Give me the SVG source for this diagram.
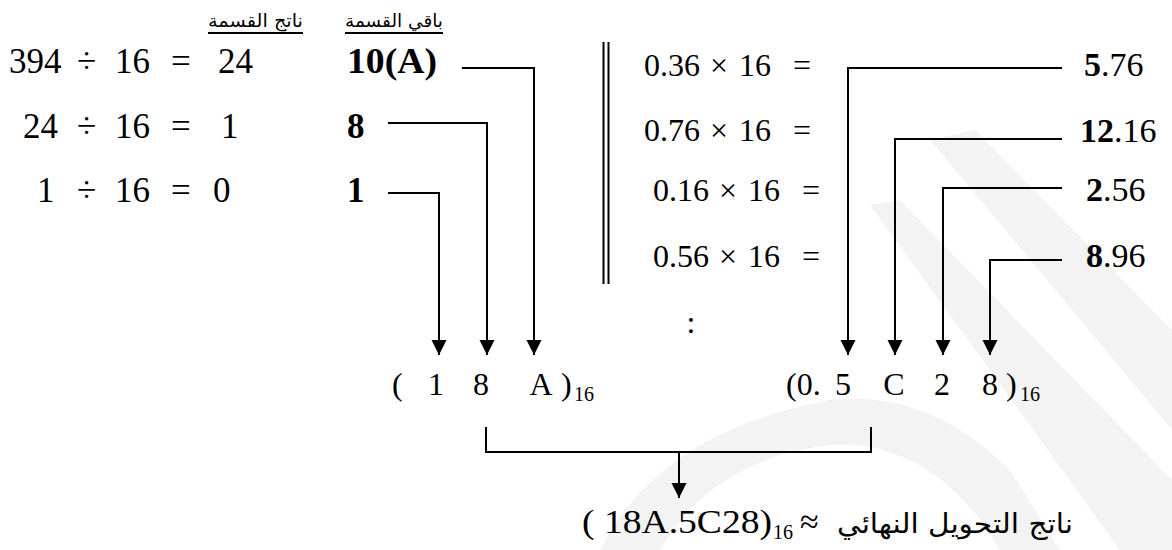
<svg xmlns="http://www.w3.org/2000/svg" width="1172" height="550" viewBox="0 0 1172 550">
<style>
.m{font-family:'Liberation Serif',serif;font-size:35px;fill:#000}
.r{font-family:'Liberation Serif',serif;font-size:32px;fill:#000}
.v{font-family:'Liberation Serif',serif;font-size:34px;fill:#000}
.b{font-weight:bold}
.sub{font-family:'Liberation Serif',serif;font-size:20px;fill:#000}
.ar{font-family:'DejaVu Sans',sans-serif;fill:#000}
.ln{fill:none;stroke:#000;stroke-width:2}
.wm{fill:#f3f3f3;stroke:none}
</style>
<defs>
<marker id="ah" markerUnits="userSpaceOnUse" markerWidth="16" markerHeight="16" refX="15" refY="7.5" orient="auto">
<path d="M0,0 L15,7.5 L0,15 z" fill="#000"/>
</marker>
</defs>
<g id="watermark">
<polygon class="wm" points="930,140 975,130 1172,330 1172,430"/>
<polygon class="wm" points="870,205 900,200 1172,480 1172,550 1120,550"/>
<path class="wm" d="M600,550 C640,470 720,420 830,400 C900,392 960,420 1010,470 L1060,550 L1000,550 C960,480 900,440 830,445 C740,455 690,500 660,550 z"/>
</g>
<g id="headers">
<text class="ar" x="303" y="27" font-size="18" text-anchor="end" textLength="95" lengthAdjust="spacingAndGlyphs">ناتج القسمة</text>
<line class="ln" x1="208" y1="33" x2="303" y2="33" stroke-width="1.5"/>
<text class="ar" x="443" y="27" font-size="18" text-anchor="end" textLength="98" lengthAdjust="spacingAndGlyphs">باقي القسمة</text>
<line class="ln" x1="345" y1="33" x2="443" y2="33" stroke-width="1.5"/>
</g>
<g id="div-row1">
<text class="m" x="9" y="73">394</text><text class="m" x="77" y="73">÷</text><text class="m" x="115" y="73">16</text><text class="m" x="171" y="73">=</text><text class="m" x="218" y="73">24</text>
<text class="m b" x="347" y="73" textLength="90" lengthAdjust="spacingAndGlyphs">10(A)</text>
</g>
<g id="div-row2">
<text class="m" x="23" y="138">24</text><text class="m" x="77" y="138">÷</text><text class="m" x="115" y="138">16</text><text class="m" x="171" y="138">=</text><text class="m" x="221" y="138">1</text>
<text class="m b" x="347" y="138">8</text>
</g>
<g id="div-row3">
<text class="m" x="37" y="202">1</text><text class="m" x="77" y="202">÷</text><text class="m" x="115" y="202">16</text><text class="m" x="171" y="202">=</text><text class="m" x="213" y="202">0</text>
<text class="m b" x="347" y="202">1</text>
</g>
<g id="separator">
<line class="ln" x1="603.5" y1="42" x2="603.5" y2="284"/>
<line class="ln" x1="608.5" y1="42" x2="608.5" y2="284"/>
</g>
<g id="mul-row1">
<text class="r" x="644" y="76">0.36</text><text class="r" x="710" y="76">×</text><text class="r" x="739" y="76">16</text><text class="r" x="793" y="76">=</text>
<text class="v" x="1084" y="76"><tspan font-weight="bold">5</tspan>.76</text>
</g>
<g id="mul-row2">
<text class="r" x="644" y="141">0.76</text><text class="r" x="710" y="141">×</text><text class="r" x="739" y="141">16</text><text class="r" x="793" y="141">=</text>
<text class="v" x="1080" y="142"><tspan font-weight="bold">12</tspan>.16</text>
</g>
<g id="mul-row3">
<text class="r" x="653" y="201">0.16</text><text class="r" x="719" y="201">×</text><text class="r" x="748" y="201">16</text><text class="r" x="802" y="201">=</text>
<text class="v" x="1086" y="201"><tspan font-weight="bold">2</tspan>.56</text>
</g>
<g id="mul-row4">
<text class="r" x="653" y="267">0.56</text><text class="r" x="719" y="267">×</text><text class="r" x="748" y="267">16</text><text class="r" x="802" y="267">=</text>
<text class="v" x="1086" y="267"><tspan font-weight="bold">8</tspan>.96</text>
</g>
<g id="ellipsis">
<text class="r" x="691" y="333" text-anchor="middle">:</text>
</g>
<g id="int-result">
<text class="r" x="392" y="395">(</text><text class="r" x="436" y="395" text-anchor="middle">1</text><text class="r" x="481" y="395" text-anchor="middle">8</text><text class="r" x="541" y="395" text-anchor="middle">A</text><text class="r" x="561" y="395">)</text>
<text class="sub" x="574" y="401">16</text>
</g>
<g id="frac-result">
<text class="r" x="786" y="395">(0.</text><text class="r" x="843" y="395" text-anchor="middle">5</text><text class="r" x="894" y="395" text-anchor="middle">C</text><text class="r" x="942" y="395" text-anchor="middle">2</text><text class="r" x="990" y="395" text-anchor="middle">8</text><text class="r" x="1006" y="395">)</text>
<text class="sub" x="1020" y="401">16</text>
</g>
<g id="final">
<text class="v" x="582" y="533" font-size="36" textLength="190" lengthAdjust="spacingAndGlyphs">( 18A.5C28)</text>
<text class="sub" x="773" y="539">16</text>
<text class="v" x="800" y="533">≈</text>
<text class="ar" x="1073" y="533" font-size="27" text-anchor="end" textLength="236" lengthAdjust="spacingAndGlyphs">ناتج التحويل النهائي</text>
</g>
<g id="connectors">
<path class="ln" d="M462,68 H534 V355" marker-end="url(#ah)"/>
<path class="ln" d="M388,123 H487 V355" marker-end="url(#ah)"/>
<path class="ln" d="M388,193 H439 V355" marker-end="url(#ah)"/>
<path class="ln" d="M1062,68 H848 V355" marker-end="url(#ah)"/>
<path class="ln" d="M1062,139 H895 V355" marker-end="url(#ah)"/>
<path class="ln" d="M1062,188 H943 V355" marker-end="url(#ah)"/>
<path class="ln" d="M1062,260 H990 V355" marker-end="url(#ah)"/>
<path class="ln" d="M486,427 V452 H871 V427"/>
<path class="ln" d="M679,452 V498" marker-end="url(#ah)"/>
</g>
</svg>
